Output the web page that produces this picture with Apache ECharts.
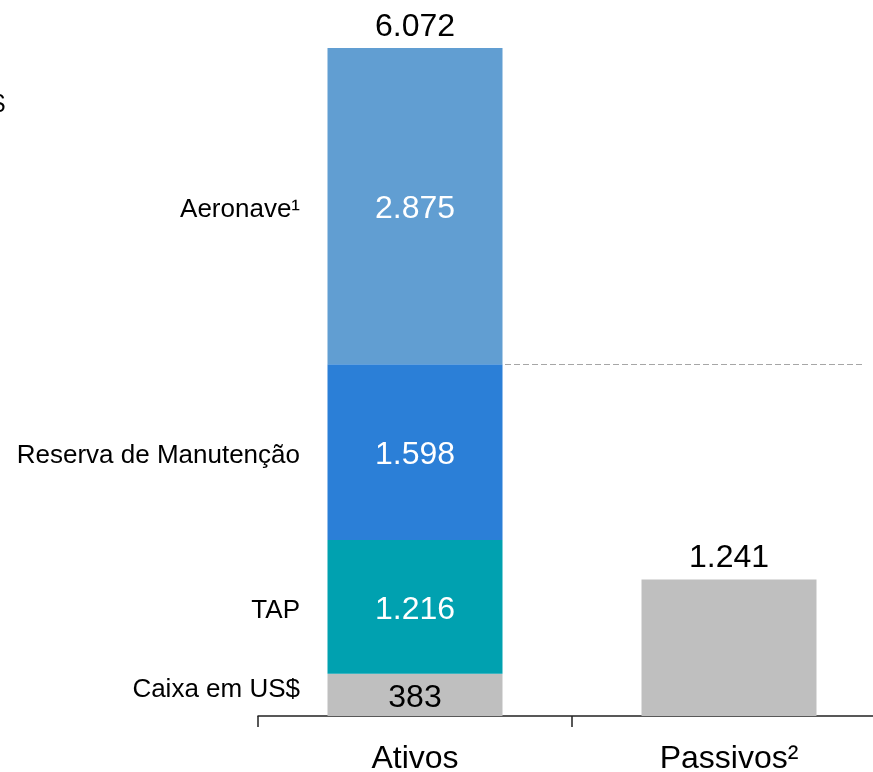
<!DOCTYPE html>
<html>
<head>
<meta charset="utf-8">
<script src="https://cdn.jsdelivr.net/npm/echarts@6/dist/echarts.min.js"></script>
<style>
  html, body { margin: 0; padding: 0; background: #fff; }
  #chart { width: 873px; height: 772px; }
</style>
</head>
<body>
<div id="chart"></div>
<script>
// dados (US$ milhões)
const categories = ['Ativos', 'Passivos²']
const caixa = [383, '-']
const tap = [1216, '-']
const reserva = [1598, '-']
const aeronave = [2875, '-']
const passivos = ['-', 1241]
const segmentNames = ['Caixa em US$', 'TAP', 'Reserva de Manutenção', 'Aeronave¹']

const fontFamily = '"Liberation Sans", Arial, sans-serif'

function fmt(v) {
	return String(v).replace(/\B(?=(\d{3})+(?!\d))/g, '.')
}

function num(v) {
	return v === '-' ? 0 : v
}

const totals = categories.map((c, i) =>
	num(caixa[i]) + num(tap[i]) + num(reserva[i]) + num(aeronave[i]) + num(passivos[i]))

// linha tracejada no topo da reserva
const dashValue = caixa[0] + tap[0] + reserva[0]

const chart = echarts.init(document.getElementById('chart'))

function seg(name, data, color, labelColor) {
	return {
		name: name,
		type: 'bar',
		stack: 'total',
		barWidth: 175,
		data: data,
		itemStyle: { color: color },
		label: {
			show: true,
			position: 'inside',
			offset: [0, 3],
			color: labelColor,
			fontSize: 32,
			fontFamily: fontFamily,
			formatter: p => fmt(p.value)
		},
		emphasis: { disabled: true }
	}
}

const series = [
	seg('Caixa em US$', caixa, '#BFBFBF', '#000'),
	seg('TAP', tap, '#00A1B0', '#fff'),
	seg('Reserva de Manutenção', reserva, '#2B7FD7', '#fff'),
	seg('Aeronave¹', aeronave, '#619ED2', '#fff'),
	Object.assign(seg('Passivos²', passivos, '#BFBFBF', '#000'), { label: { show: false } }),
	{
		name: 'total',
		type: 'bar',
		stack: 'total',
		barWidth: 175,
		data: [0, 0],
		itemStyle: { color: 'transparent' },
		label: {
			show: true,
			position: 'top',
			distance: 5,
			color: '#000',
			fontSize: 32,
			fontFamily: fontFamily,
			formatter: p => fmt(totals[p.dataIndex])
		},
		markLine: {
			silent: true,
			symbol: 'none',
			label: { show: false },
			lineStyle: { color: '#A6A6A6', type: [6, 3], width: 1 },
			data: [[
				{ coord: [0, dashValue], x: 505 },
				{ coord: [1, dashValue], x: 862 }
			]]
		},
		emphasis: { disabled: true }
	}
]

chart.setOption({
	animation: false,
	grid: {
		left: 258,
		width: 628,
		top: 48,
		bottom: 56,
		containLabel: false,
		outerBoundsMode: 'none'
	},
	xAxis: {
		type: 'category',
		data: categories,
		axisLine: { lineStyle: { color: '#222', width: 1.5 } },
		axisTick: { show: true, length: 11, lineStyle: { color: '#222', width: 1.5 } },
		axisLabel: {
			color: '#000',
			fontSize: 32,
			fontFamily: fontFamily,
			margin: 27
		}
	},
	yAxis: {
		type: 'value',
		min: 0,
		max: totals[0],
		show: false,
		splitLine: { show: false }
	},
	series: series
})

// rótulos à esquerda dos segmentos
const segData = [caixa, tap, reserva, aeronave]
let base = 0
const sideLabels = []
segData.forEach((arr, k) => {
	const mid = base + arr[0] / 2
	base += arr[0]
	const pt = chart.convertToPixel({ gridIndex: 0 }, [0, mid])
	sideLabels.push({
		type: 'text',
		x: 300,
		y: pt[1] + (k === 0 ? -5 : 4),
		style: {
			text: segmentNames[k],
			fill: '#000',
			font: '26px ' + fontFamily,
			align: 'right',
			verticalAlign: 'middle'
		}
	})
})
sideLabels.push({
	type: 'text',
	x: 5,
	y: 105,
	style: {
		text: 'US$',
		fill: '#000',
		font: '26px ' + fontFamily,
		align: 'right',
		verticalAlign: 'middle'
	}
})
chart.setOption({ graphic: sideLabels })
</script>
</body>
</html>
